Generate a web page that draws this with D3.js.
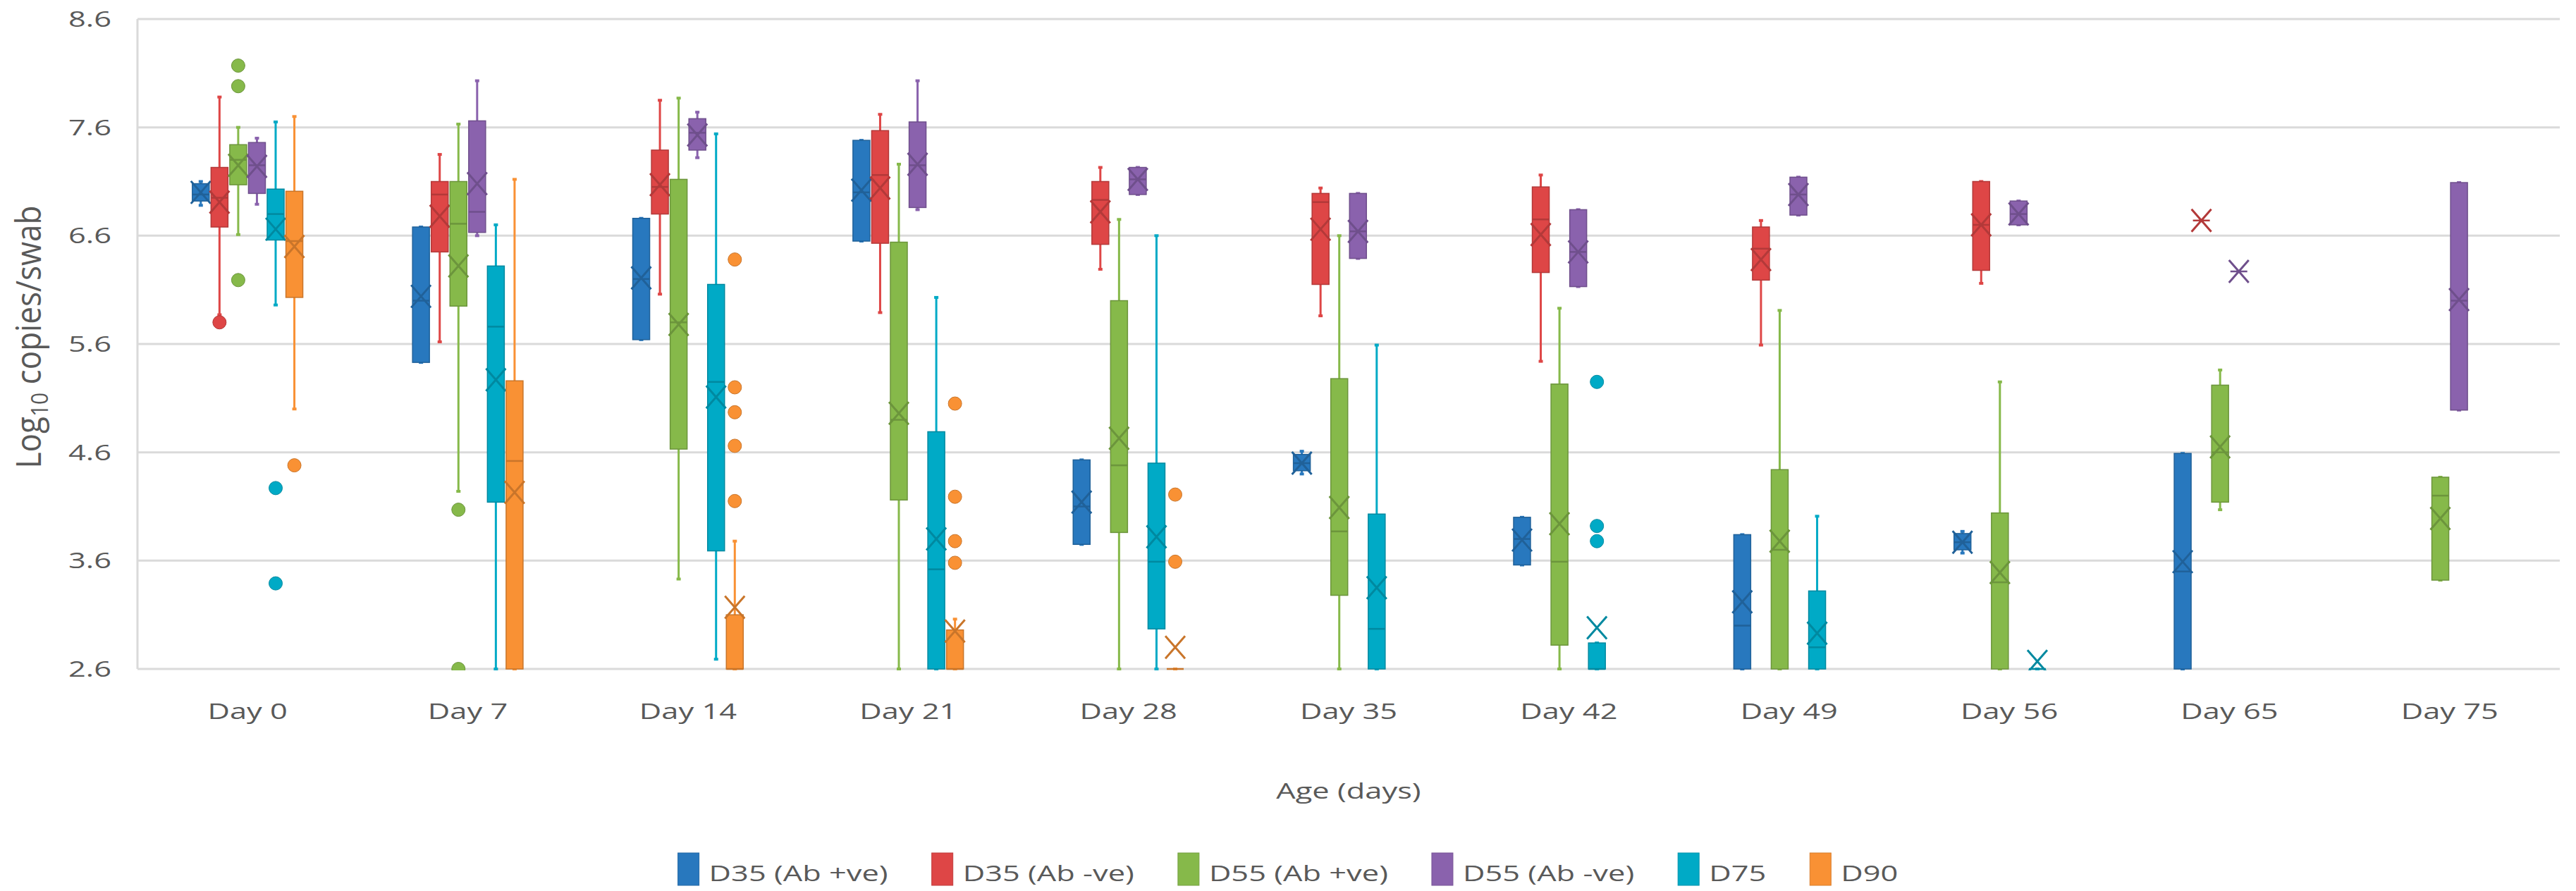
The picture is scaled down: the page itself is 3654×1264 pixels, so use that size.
<!DOCTYPE html>
<html>
<head>
<meta charset="utf-8">
<script src="https://cdn.jsdelivr.net/npm/d3@7"></script>
<style>
  body { margin: 0; background: #fff; }
  text { font-family: "Open Sans", sans-serif; fill: #595959; }
</style>
</head>
<body>
<svg id="chart" width="3654" height="1264"></svg>
<script>
// categories, series and ticks
var days = ["Day 0", "Day 7", "Day 14", "Day 21", "Day 28", "Day 35", "Day 42", "Day 49", "Day 56", "Day 65", "Day 75"];
var seriesNames = ["D35 (Ab +ve)", "D35 (Ab -ve)", "D55 (Ab +ve)", "D55 (Ab -ve)", "D75", "D90"];
var yTicks = [2.6, 3.6, 4.6, 5.6, 6.6, 7.6, 8.6];

// per day: [whisker min, Q1, median, Q3, whisker max, mean]  (null = no data)
var d35pos = [
  [6.88, 6.92, 6.98, 7.08, 7.10, 7.00],
  [5.43, 5.43, 6.00, 6.68, 6.68, 6.04],
  [5.64, 5.64, 6.20, 6.76, 6.76, 6.21],
  [6.55, 6.55, 7.00, 7.48, 7.48, 7.02],
  [3.75, 3.75, 4.10, 4.53, 4.53, 4.14],
  [4.40, 4.43, 4.50, 4.58, 4.61, 4.50],
  [3.56, 3.56, 3.80, 4.00, 4.00, 3.79],
  [2.60, 2.60, 3.00, 3.84, 3.84, 3.22],
  [3.67, 3.70, 3.77, 3.85, 3.87, 3.77],
  [2.60, 2.60, 3.50, 4.59, 4.59, 3.59],
  null
];
var d35neg = [
  [5.87, 6.68, 6.95, 7.23, 7.88, 6.91],
  [5.62, 6.45, 6.98, 7.10, 7.35, 6.78],
  [6.06, 6.80, 7.05, 7.39, 7.85, 7.07],
  [5.89, 6.53, 7.16, 7.57, 7.72, 7.04],
  [6.29, 6.52, 6.93, 7.10, 7.23, 6.82],
  [5.86, 6.15, 6.91, 6.99, 7.04, 6.66],
  [5.44, 6.26, 6.75, 7.05, 7.16, 6.61],
  [5.59, 6.19, 6.48, 6.68, 6.74, 6.38],
  [6.16, 6.28, 6.70, 7.10, 7.10, 6.70],
  [6.74, 6.74, 6.74, 6.74, 6.74, 6.74],
  null
];
var d55pos = [
  [6.61, 7.07, 7.30, 7.44, 7.60, 7.25],
  [4.24, 5.95, 6.71, 7.10, 7.63, 6.32],
  [3.43, 4.63, 5.80, 7.12, 7.87, 5.78],
  [2.60, 4.16, 4.90, 6.54, 7.26, 4.96],
  [2.60, 3.86, 4.48, 6.00, 6.75, 4.73],
  [2.60, 3.28, 3.87, 5.28, 6.60, 4.09],
  [2.60, 2.82, 3.59, 5.23, 5.93, 3.94],
  [2.60, 2.60, 3.70, 4.44, 5.91, 3.78],
  [2.60, 2.60, 3.40, 4.04, 5.25, 3.49],
  [4.07, 4.14, 4.60, 5.22, 5.36, 4.65],
  [3.42, 3.42, 4.20, 4.37, 4.37, 3.99]
];
var d55neg = [
  [6.89, 6.99, 7.25, 7.46, 7.50, 7.24],
  [6.60, 6.63, 6.82, 7.66, 8.03, 7.08],
  [7.32, 7.39, 7.55, 7.68, 7.74, 7.53],
  [6.84, 6.86, 7.25, 7.65, 8.03, 7.26],
  [6.98, 6.98, 7.12, 7.23, 7.23, 7.12],
  [6.39, 6.39, 6.64, 6.99, 6.99, 6.64],
  [6.13, 6.13, 6.45, 6.84, 6.84, 6.45],
  [6.79, 6.79, 6.98, 7.14, 7.14, 6.98],
  [6.70, 6.70, 6.80, 6.92, 6.92, 6.80],
  [6.27, 6.27, 6.27, 6.27, 6.27, 6.27],
  [4.99, 4.99, 6.00, 7.09, 7.09, 6.01]
];
var d75 = [
  [5.96, 6.56, 6.80, 7.03, 7.65, 6.66],
  [2.60, 4.14, 5.76, 6.32, 6.70, 5.27],
  [2.69, 3.69, 5.25, 6.15, 7.54, 5.11],
  [2.60, 2.60, 3.52, 4.79, 6.03, 3.80],
  [2.60, 2.97, 3.59, 4.50, 6.60, 3.82],
  [2.60, 2.60, 2.97, 4.03, 5.59, 3.35],
  [2.60, 2.60, 2.60, 2.84, 2.84, 2.98],
  [2.60, 2.60, 2.80, 3.32, 4.01, 2.93],
  [2.60, 2.60, 2.60, 2.60, 2.60, 2.67],
  null,
  null
];
var d90 = [
  [5.00, 6.03, 6.55, 7.01, 7.70, 6.50],
  [2.60, 2.60, 4.52, 5.26, 7.12, 4.23],
  [2.60, 2.60, 2.60, 3.10, 3.78, 3.17],
  [2.60, 2.60, 2.60, 2.96, 3.06, 2.95],
  [2.60, 2.60, 2.60, 2.60, 2.60, 2.80],
  null, null, null, null, null, null
];

// outliers: [day index, value]
var d35posOut = [];
var d35negOut = [[0, 5.80]];
var d55posOut = [[0, 8.17], [0, 7.98], [0, 6.19], [1, 4.07], [1, 2.60]];
var d55negOut = [];
var d75Out = [[0, 4.27], [0, 3.39], [6, 5.25], [6, 3.92], [6, 3.78]];
var d90Out = [[0, 4.48], [2, 6.38], [2, 5.20], [2, 4.97], [2, 4.66], [2, 4.15],
              [3, 5.05], [3, 4.19], [3, 3.78], [3, 3.58], [4, 4.21], [4, 3.59]];

var allStats = [d35pos, d35neg, d55pos, d55neg, d75, d90];
var allOut = [d35posOut, d35negOut, d55posOut, d55negOut, d75Out, d90Out];
var colors = ["#2878be", "#de4646", "#86b94a", "#8a62ad", "#00aac6", "#f99134"];

var svg = d3.select("#chart");
var W = 3654, H = 1264;
var pLeft = 195, pRight = 3631, pTop = 27, pBottom = 949;
var stretch = 1.4;   // the text in the picture is drawn wide

var x = d3.scaleBand().domain(days).range([pLeft, pRight]);
var xs = d3.scaleBand().domain(seriesNames)
    .range([-x.bandwidth() * 0.255, x.bandwidth() * 0.255]);
var y = d3.scaleLinear().domain([2.6, 8.6]).range([pBottom, pTop]);
var boxW = 24;

// gridlines
svg.append("g").selectAll("line").data(yTicks).enter().append("line")
   .attr("x1", pLeft).attr("x2", pRight)
   .attr("y1", function(d) { return y(d); }).attr("y2", function(d) { return y(d); })
   .attr("stroke", "#dadada").attr("stroke-width", 3);
svg.append("line")
   .attr("x1", pLeft).attr("x2", pLeft).attr("y1", pTop).attr("y2", pBottom)
   .attr("stroke", "#dadada").attr("stroke-width", 3);

// y tick labels
svg.append("g").selectAll("text").data(yTicks).enter().append("text")
   .attr("transform", function(d) { return "translate(158," + (y(d) + 11) + ") scale(" + stretch + ",1)"; })
   .attr("text-anchor", "end").attr("font-size", "31px")
   .text(function(d) { return d.toFixed(1); });

// x labels
svg.append("g").selectAll("text").data(days).enter().append("text")
   .attr("transform", function(d) { return "translate(" + (x(d) + x.bandwidth() / 2) + ",1020) scale(" + stretch + ",1)"; })
   .attr("text-anchor", "middle").attr("font-size", "31px")
   .text(function(d) { return d; });

// axis titles
svg.append("text")
   .attr("transform", "translate(" + ((pLeft + pRight) / 2) + ",1133) scale(" + stretch + ",1)")
   .attr("text-anchor", "middle").attr("font-size", "31px")
   .text("Age  (days)");

var yt = svg.append("text")
   .attr("transform", "translate(58,478) scale(1.1,1) rotate(-90)")
   .attr("text-anchor", "middle").attr("font-size", "44px");
yt.append("tspan").text("Log");
yt.append("tspan").attr("font-size", "30px").attr("dy", 9).text("10");
yt.append("tspan").attr("dy", -9).text(" copies/swab");

// clip so that boxes stop at the bottom of the axis
svg.append("clipPath").attr("id", "plotclip").append("rect")
   .attr("x", pLeft).attr("y", 0).attr("width", pRight - pLeft).attr("height", pBottom + 2);

var plot = svg.append("g").attr("clip-path", "url(#plotclip)");

seriesNames.forEach(function(name, si) {
  var col = colors[si];
  var dark = d3.color(col).darker(0.6).toString();
  var g = plot.append("g");
  var rows = [];
  allStats[si].forEach(function(s, di) { if (s) rows.push({day: days[di], s: s}); });

  rows.forEach(function(r) {
    var cx = x(r.day) + x.bandwidth() / 2 + xs(name) + xs.bandwidth() / 2;
    var s = r.s;
    // whisker
    g.append("line").attr("x1", cx).attr("x2", cx)
     .attr("y1", y(s[0])).attr("y2", y(s[4]))
     .attr("stroke", col).attr("stroke-width", 3);
    [s[0], s[4]].forEach(function(v) {
      g.append("line").attr("x1", cx - 3).attr("x2", cx + 3)
       .attr("y1", y(v)).attr("y2", y(v))
       .attr("stroke", col).attr("stroke-width", 4);
    });
    // box
    g.append("rect")
     .attr("x", cx - boxW / 2).attr("width", boxW)
     .attr("y", y(s[3])).attr("height", Math.max(0, y(s[1]) - y(s[3])))
     .attr("fill", col).attr("stroke", dark).attr("stroke-width", 1.5);
    // median
    g.append("line").attr("x1", cx - boxW / 2).attr("x2", cx + boxW / 2)
     .attr("y1", y(s[2])).attr("y2", y(s[2]))
     .attr("stroke", dark).attr("stroke-width", 2.5);
    // mean X
    var my = y(s[5]);
    g.append("path")
     .attr("d", "M" + (cx - 14) + "," + (my - 16) + "L" + (cx + 14) + "," + (my + 16) +
                "M" + (cx + 14) + "," + (my - 16) + "L" + (cx - 14) + "," + (my + 16))
     .attr("stroke", dark).attr("stroke-width", 3).attr("fill", "none");
  });

  g.selectAll("circle").data(allOut[si]).enter().append("circle")
   .attr("cx", function(d) { return x(days[d[0]]) + x.bandwidth() / 2 + xs(name) + xs.bandwidth() / 2; })
   .attr("cy", function(d) { return y(d[1]); })
   .attr("r", 9.5)
   .attr("fill", col).attr("stroke", dark).attr("stroke-width", 1);
});

// legend
var legend = svg.append("g");
var lx = 0;
seriesNames.forEach(function(name, i) {
  var it = legend.append("g").attr("transform", "translate(" + lx + ",0)");
  it.append("rect").attr("x", 0).attr("y", -40).attr("width", 30).attr("height", 46)
    .attr("fill", colors[i]).attr("stroke", d3.color(colors[i]).darker(0.4)).attr("stroke-width", 1);
  var t = it.append("text")
    .attr("transform", "translate(44,0) scale(" + stretch + ",1)")
    .attr("font-size", "31px").text(name);
  var w = 44 + t.node().getComputedTextLength() * stretch;
  lx += w + 62;
});
var totalW = lx - 62;
legend.attr("transform", "translate(" + ((W - totalW) / 2) + ",1250)");
</script>
</body>
</html>
